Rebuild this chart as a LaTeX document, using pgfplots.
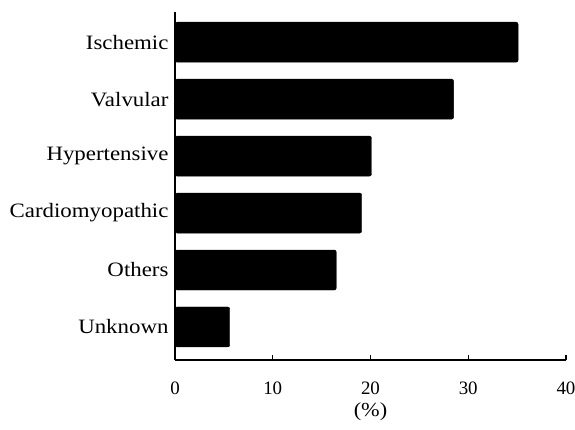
\documentclass[border=0pt]{standalone}
\usepackage{pgfplots}
\pgfplotsset{compat=1.18}
\usepackage{fontspec}
\setmainfont{Liberation Serif}[FakeStretch=1.12]
\newfontfamily\numfont{Liberation Serif}
\begin{document}
\begin{tikzpicture}
\useasboundingbox (-175bp,-70bp) rectangle (400bp,360bp);
\begin{axis}[
  at={(0,0)}, anchor=south west,
  scale only axis, width=391bp, height=348bp,
  xbar, bar width=40bp,
  xmin=0, xmax=40, ymin=-0.58, ymax=5.53,
  axis x line*=bottom, axis y line*=left,
  axis line style={-, line width=1.3pt},
  xtick={0,10,20,30,40},
  tick align=inside, major tick length=5bp,
  x tick style={line width=1.1pt, black},
  ytick={0,1,2,3,4,5},
  yticklabels={Unknown,Others,Cardiomyopathic,Hypertensive,Valvular,Ischemic},
  y tick style={draw=none},
  y tick label style={xshift=-3bp, font=\fontsize{20.5}{22}\selectfont},
  /pgf/number format/assume math mode=true,
  x tick label style={yshift=-18bp, font=\numfont\fontsize{19}{21}\selectfont},
  xlabel={(\%)},
  xlabel style={at={(axis description cs:0.5,0)}, anchor=center, yshift=-52bp, font=\fontsize{20}{22}\selectfont},
]
\addplot[fill=black, draw=black, rounded corners=2pt] coordinates {
  (35.1,5) (28.5,4) (20.1,3) (19.1,2) (16.5,1) (5.6,0)
};
\end{axis}
\end{tikzpicture}
\end{document}
